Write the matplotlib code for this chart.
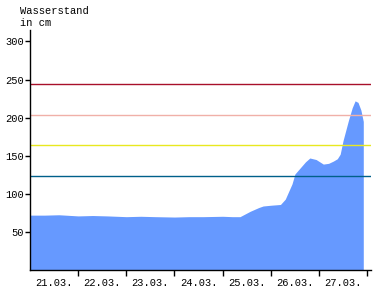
import matplotlib
matplotlib.use("Agg")
import matplotlib.pyplot as plt

# time in days since 21.03. 00:00, water level in cm
days = [0.0, 0.3, 0.6, 1.0, 1.3, 1.6, 2.0, 2.3, 2.6, 3.0, 3.3, 3.6, 4.0, 4.2, 4.36,
        4.57, 4.75, 4.84, 5.0, 5.2, 5.3, 5.44, 5.5, 5.61, 5.72, 5.81, 5.94, 6.09,
        6.2, 6.3, 6.38, 6.44, 6.5, 6.61, 6.69, 6.75, 6.81, 6.87, 6.92]
level = [72, 72, 72.5, 71, 71.5, 71, 70, 70.5, 70, 69.5, 70, 70, 70.5, 70, 70,
         77, 82, 84, 85, 86, 93, 113, 126, 134, 142, 147, 145, 139,
         140, 143, 146, 152, 170, 196, 213, 222, 220, 210, 195]

thresholds = [244, 204, 164, 124]
threshold_colors = ["#a8102a", "#f0b0a8", "#e8e820", "#00608a"]

xtick_pos = [1, 2, 3, 4, 5, 6, 7]
xlabel_pos = [0.5, 1.5, 2.5, 3.5, 4.5, 5.5, 6.5]
xlabels = ["21.03.", "22.03.", "23.03.", "24.03.", "25.03.", "26.03.", "27.03."]
yticks = [50, 100, 150, 200, 250, 300]

font = "Liberation Mono"
fig = plt.figure(figsize=(3.74, 3.0), dpi=100)
ax = fig.add_axes([30/374, 30/300, 341/374, 240/300])

ax.fill_between(days, 0, level, color="#6699ff", linewidth=0)
for v, c in zip(thresholds, threshold_colors):
    ax.axhline(v, color=c, linewidth=1.0)

ax.set_xlim(0, 7.08)
ax.set_ylim(0, 315)
ax.spines["top"].set_visible(False)
ax.spines["right"].set_visible(False)
ax.spines["left"].set_linewidth(1)
ax.spines["bottom"].set_linewidth(1)

ax.set_yticks(yticks)
ax.set_yticklabels([str(v) for v in yticks], fontfamily=font, fontsize=7.5)
ax.tick_params(axis="y", length=3.5, width=1, pad=1)

ax.set_xticks(xtick_pos)
ax.set_xticklabels([])
ax.tick_params(axis="x", which="major", length=4, width=1)
ax.set_xticks(xlabel_pos, minor=True)
ax.set_xticklabels(xlabels, minor=True, fontfamily=font, fontsize=7.5)
ax.tick_params(axis="x", which="minor", length=0, pad=6)

fig.text(20/374, 1 - 14/300, "Wasserstand", fontfamily=font, fontsize=7.5,
         ha="left", va="baseline")
fig.text(20/374, 1 - 26/300, "in cm", fontfamily=font, fontsize=7.5,
         ha="left", va="baseline")

fig.savefig("out.png", dpi=100)
